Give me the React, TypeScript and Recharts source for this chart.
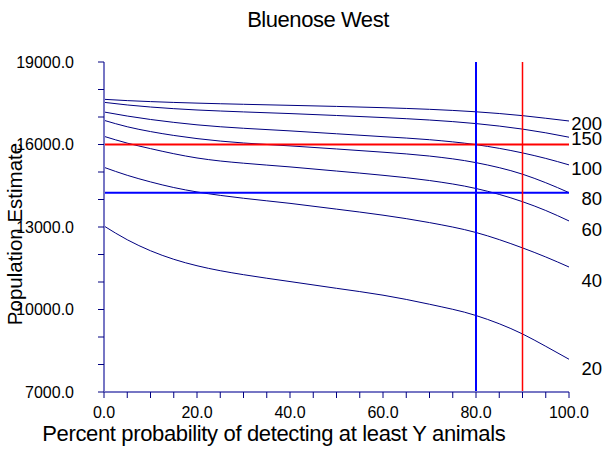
import React from "react";
import {
  LineChart,
  Line,
  XAxis,
  YAxis,
  ReferenceLine,
  Label,
} from "recharts";

// percent probability (x) and population estimate for each Y
const pct = [0, 5, 10, 15, 20, 25, 30, 40, 50, 60, 70, 80, 90, 95, 100];
const y200 = [17643, 17596, 17560, 17530, 17505, 17482, 17462, 17424, 17385, 17339, 17279, 17189, 17049, 16954, 16855];
const y150 = [17533, 17438, 17363, 17303, 17255, 17218, 17185, 17125, 17055, 16980, 16890, 16760, 16560, 16425, 16265];
const y100 = [17182, 17035, 16910, 16805, 16715, 16645, 16590, 16495, 16390, 16285, 16174, 15994, 15694, 15494, 15259];
const y80 = [16879, 16645, 16470, 16330, 16215, 16125, 16055, 15950, 15838, 15720, 15580, 15340, 14920, 14610, 14250];
const y60 = [16297, 16050, 15850, 15665, 15510, 15400, 15320, 15185, 15035, 14880, 14690, 14400, 13920, 13600, 13220];
const y40 = [15170, 14880, 14640, 14435, 14275, 14150, 14045, 13860, 13650, 13430, 13160, 12800, 12240, 11910, 11545];
const y20 = [13036, 12536, 12136, 11826, 11591, 11411, 11266, 11016, 10771, 10521, 10191, 9781, 9111, 8661, 8191];

const seriesNames = ["200", "150", "100", "80", "60", "40", "20"];
const seriesValues = [y200, y150, y100, y80, y60, y40, y20];

const xTicks = [0, 5, 10, 15, 20, 25, 30, 35, 40, 45, 50, 55, 60, 65, 70, 75, 80, 85, 90, 95, 100];
const yTicks = [7000, 8000, 9000, 10000, 11000, 12000, 13000, 14000, 15000, 16000, 17000, 18000, 19000];

const redLevel = 16000;
const blueLevel = 14250;
const blueProb = 80;
const redProb = 90;

// vertical nudge of the end labels (px), the labels sit a bit below the line ends
const labelDy: Record<string, number> = {
  "200": 2.7,
  "150": 1,
  "100": 4,
  "80": 5.6,
  "60": 8.3,
  "40": 13.3,
  "20": 8.7,
};

const data = pct.map((p, i) => {
  const row: Record<string, number> = { p };
  seriesNames.forEach((n, k) => {
    row["s" + n] = seriesValues[k][i];
  });
  return row;
});

const FONT = '"Liberation Sans", Arial, sans-serif';
const NAVY = "#000080";
const AXIS = "#7676c4";

function endLabel(name: string) {
  return (props: any) => {
    const { y, index } = props;
    if (index !== pct.length - 1) return <g />;
    return (
      <text
        x={602}
        y={y + labelDy[name]}
        dy="0.355em"
        textAnchor="end"
        fontSize={18.5}
        fontFamily={FONT}
        fill="#000"
      >
        {name}
      </text>
    );
  };
}

export default function App() {
  return (
    <div style={{ position: "absolute", left: 0, top: 0, width: 603, height: 451 }}>
      <svg
        width={603}
        height={451}
        style={{ position: "absolute", left: 0, top: 0, pointerEvents: "none" }}
      >
        <text
          x={318}
          y={27.3}
          textAnchor="middle"
          fontSize={22}
          letterSpacing={-0.45}
          fontFamily={FONT}
          fill="#000"
        >
          Bluenose West
        </text>
      </svg>
      <LineChart
        width={603}
        height={451}
        data={data}
        margin={{ top: 62, right: 34, bottom: 29, left: 14 }}
      >
        <XAxis
          dataKey="p"
          type="number"
          domain={[0, 100]}
          ticks={xTicks}
          interval={0}
          height={30}
          axisLine={{ stroke: AXIS, strokeWidth: 2 }}
          tickLine={{ stroke: NAVY }}
          tickSize={6}
          tickMargin={9}
          tick={{ fill: "#000", fontSize: 16, fontFamily: FONT }}
          tickFormatter={(v: number) => (v % 20 === 0 ? v.toFixed(1) : "")}
        >
          <Label
            content={(props: any) => {
              const vb = props.viewBox;
              return (
                <text
                  x={vb.x + vb.width / 2 - 62.7}
                  y={vb.y + 49}
                  textAnchor="middle"
                  fontSize={22}
                  letterSpacing={-0.35}
                  fontFamily={FONT}
                  fill="#000"
                >
                  Percent probability of detecting at least Y animals
                </text>
              );
            }}
          />
        </XAxis>
        <YAxis
          type="number"
          domain={[7000, 19000]}
          ticks={yTicks}
          interval={0}
          width={90}
          axisLine={{ stroke: AXIS, strokeWidth: 2 }}
          tickLine={{ stroke: NAVY }}
          tickSize={6}
          tickMargin={24}
          tick={{ fill: "#000", fontSize: 16, fontFamily: FONT }}
          tickFormatter={(v: number) => ((v - 7000) % 3000 === 0 ? v.toFixed(1) : "")}
        >
          <Label
            content={(props: any) => {
              const vb = props.viewBox;
              const cx = vb.x + 8;
              const cy = 234;
              return (
                <text
                  x={cx}
                  y={cy}
                  transform={`rotate(-90, ${cx}, ${cy})`}
                  textAnchor="middle"
                  fontSize={20.5}
                  fontFamily={FONT}
                  fill="#000"
                >
                  Population Estimate
                </text>
              );
            }}
          />
        </YAxis>
        {seriesNames.map((n) => (
          <Line
            key={n}
            type="monotone"
            dataKey={"s" + n}
            stroke={NAVY}
            strokeWidth={1}
            dot={false}
            label={endLabel(n)}
            isAnimationActive={false}
          />
        ))}
        <ReferenceLine y={redLevel} stroke="#ff0000" strokeWidth={2} />
        <ReferenceLine y={blueLevel} stroke="#0000ff" strokeWidth={2} />
        <ReferenceLine x={blueProb} stroke="#0000ff" strokeWidth={2} />
        <ReferenceLine x={redProb} stroke="#ff0000" strokeWidth={1.5} />
      </LineChart>
    </div>
  );
}
